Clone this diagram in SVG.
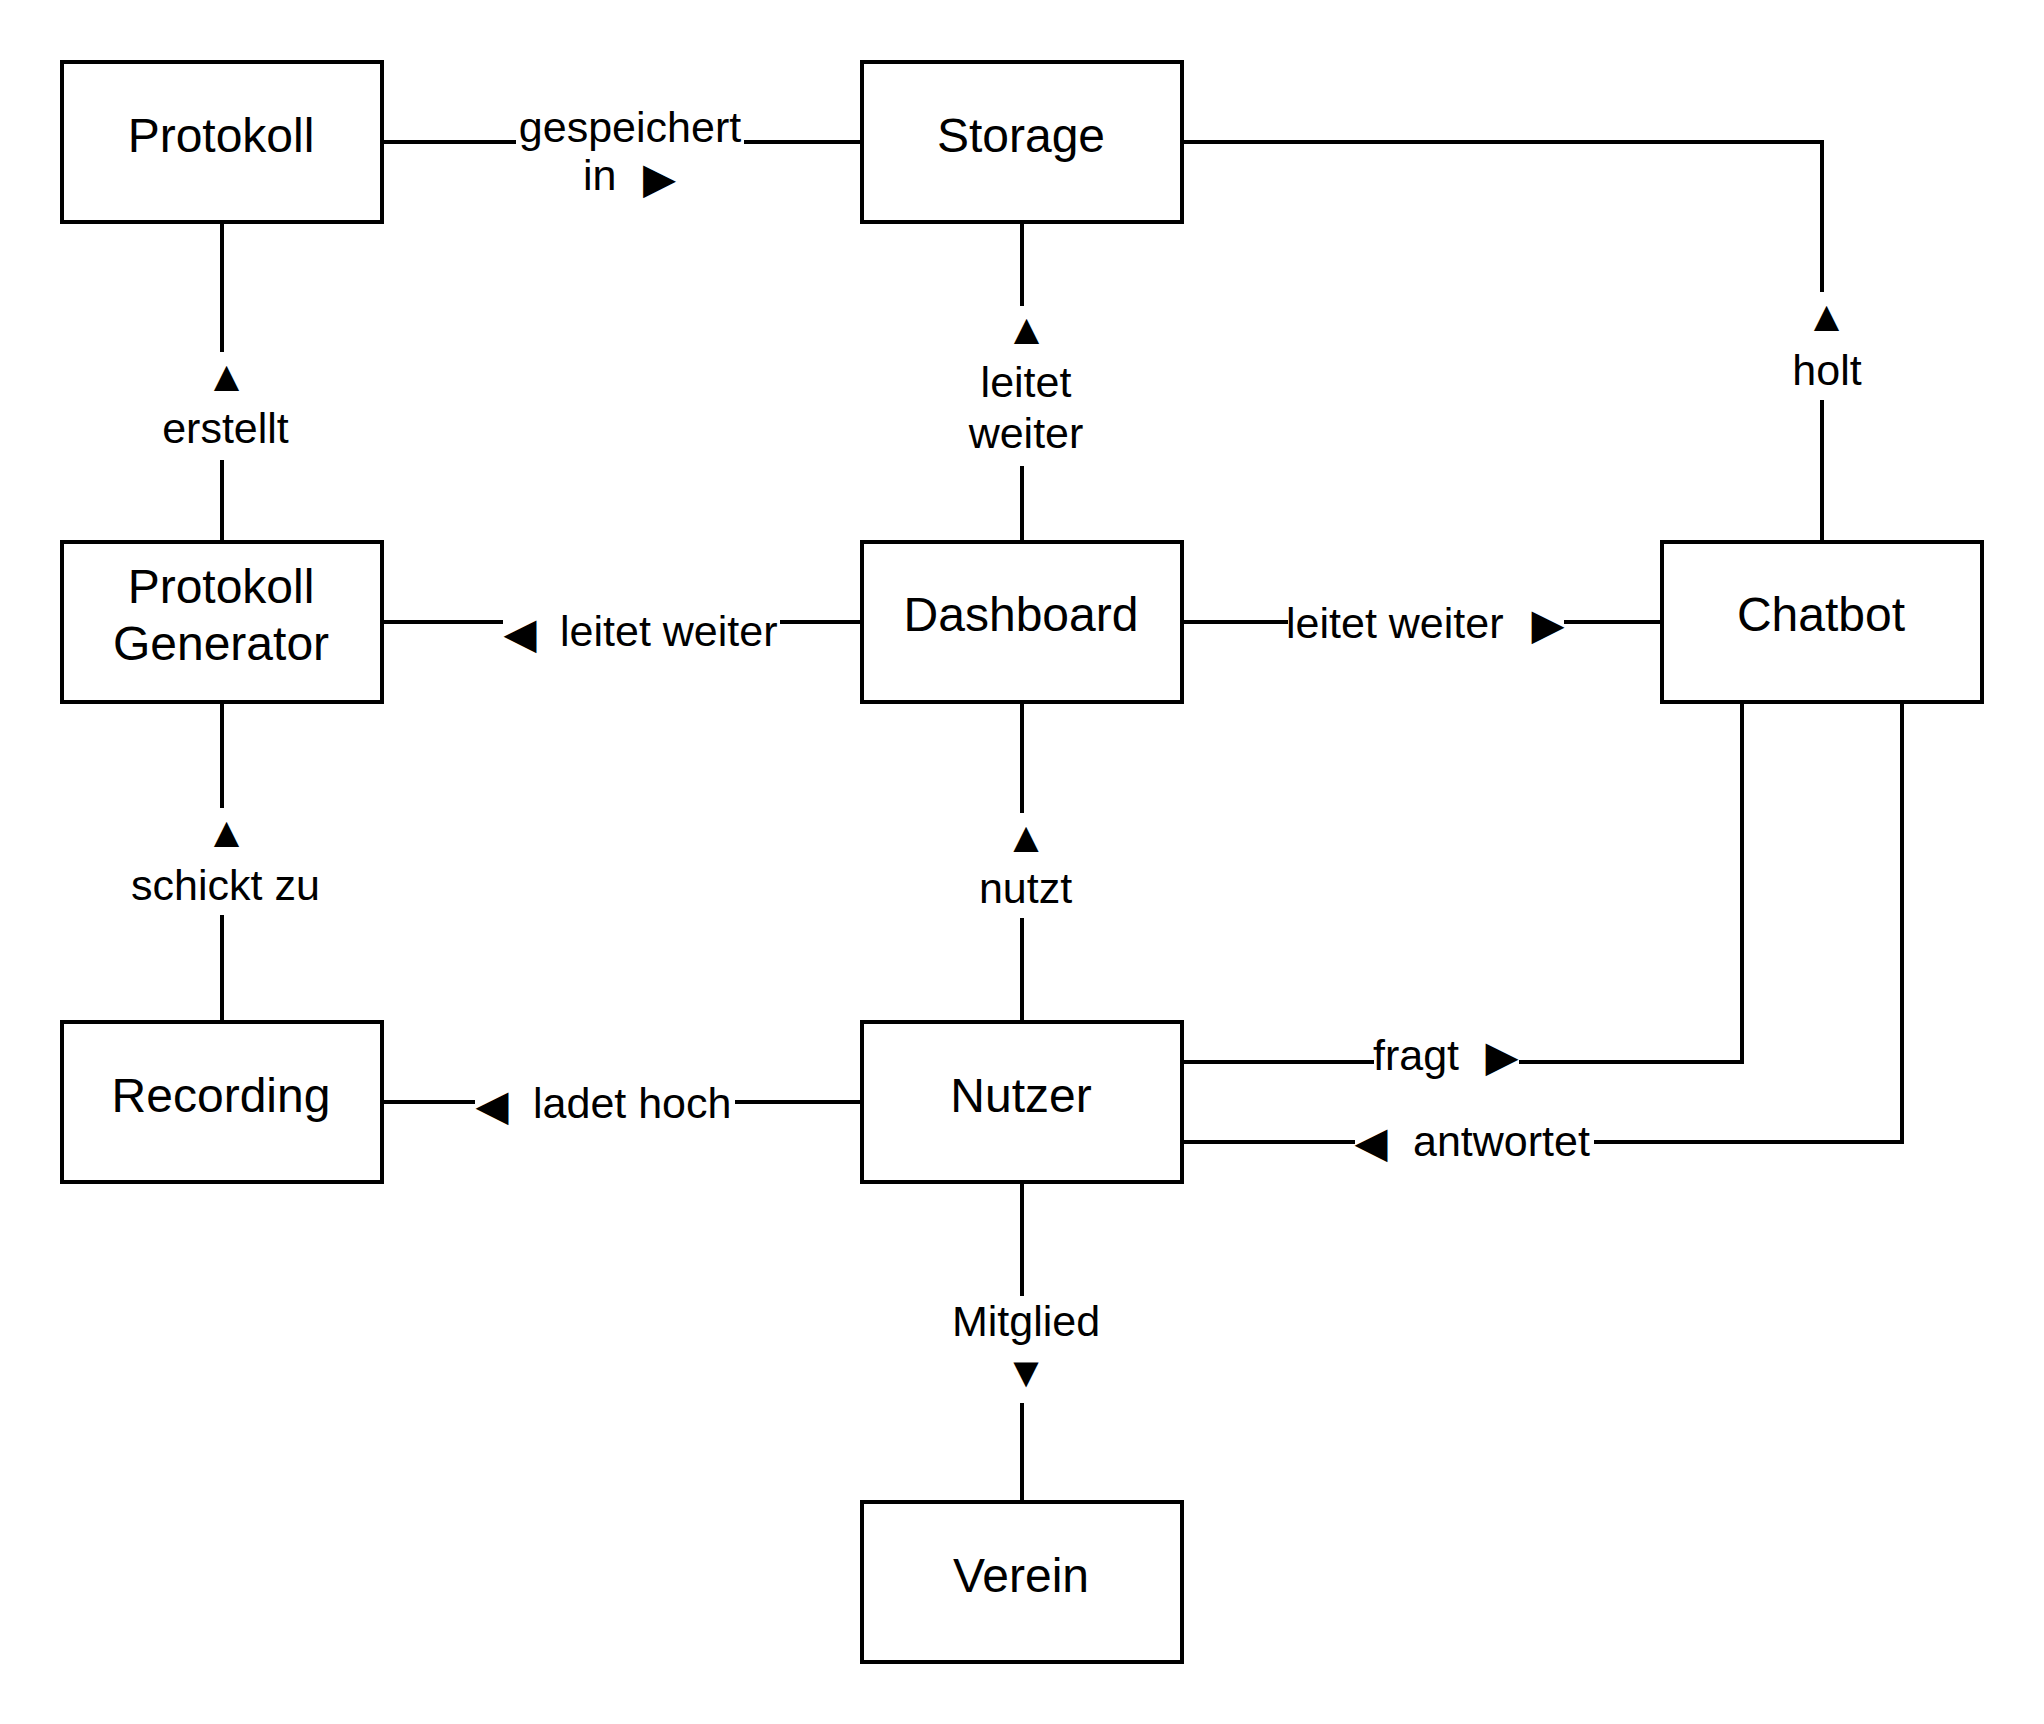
<svg xmlns="http://www.w3.org/2000/svg" width="2044" height="1724" viewBox="0 0 2044 1724">
<style>
.node rect{fill:#ffffff;stroke:#000000;stroke-width:4}
.node text{font-family:"Liberation Sans",Arial,Helvetica,"DejaVu Sans",sans-serif;font-size:48px;fill:#000000;text-anchor:middle}
.edges path{fill:none;stroke:#000000;stroke-width:4}
.lbl{font-family:"Liberation Sans",Arial,Helvetica,"DejaVu Sans",sans-serif;font-size:43px;fill:#000000}
.mid{text-anchor:middle}
</style>
<rect x="0" y="0" width="2044" height="1724" fill="#ffffff"/>
<g class="edges" id="connectors">
<path d="M382 142 H516 M744 142 H862"/>
<path d="M222 222 V352 M222 460 V542"/>
<path d="M382 622 H503 M780 622 H862"/>
<path d="M1022 222 V306 M1022 466 V542"/>
<path d="M1182 142 H1822 V292 M1822 400 V542"/>
<path d="M1182 622 H1288 M1564 622 H1662"/>
<path d="M1022 702 V813 M1022 918 V1022"/>
<path d="M222 702 V808 M222 915 V1022"/>
<path d="M382 1102 H475 M735 1102 H862"/>
<path d="M1182 1062 H1374 M1519 1062 H1742 V702"/>
<path d="M1902 702 V1142 H1594 M1355 1142 H1182"/>
<path d="M1022 1182 V1296 M1022 1403 V1502"/>
<g id="edge-labels">
<text class="lbl mid" x="630" y="142">gespeichert</text>
<text class="lbl" y="190"><tspan x="583">in</tspan><tspan class="mid" x="659.5" y="193">▶</tspan></text>
<text class="lbl mid" x="226.5" y="391">▲</text>
<text class="lbl mid" x="225.5" y="443">erstellt</text>
<text class="lbl mid" x="1026.5" y="344">▲</text>
<text class="lbl mid" x="1026" y="397">leitet</text>
<text class="lbl mid" x="1026" y="448">weiter</text>
<text class="lbl mid" x="1826.5" y="331">▲</text>
<text class="lbl mid" x="1827" y="385">holt</text>
<text class="lbl" y="646"><tspan class="mid" x="520" y="648">◀</tspan><tspan x="560" y="646">leitet weiter</tspan></text>
<text class="lbl" y="638"><tspan x="1286">leitet weiter</tspan><tspan class="mid" x="1548" y="639">▶</tspan></text>
<text class="lbl mid" x="1026" y="852">▲</text>
<text class="lbl mid" x="1025.5" y="903">nutzt</text>
<text class="lbl mid" x="226.5" y="847">▲</text>
<text class="lbl mid" x="225.5" y="900">schickt zu</text>
<text class="lbl" y="1118"><tspan class="mid" x="492" y="1120">◀</tspan><tspan x="533" y="1118">ladet hoch</tspan></text>
<text class="lbl" y="1070"><tspan x="1373">fragt</tspan><tspan class="mid" x="1502" y="1071">▶</tspan></text>
<text class="lbl" y="1156"><tspan class="mid" x="1371" y="1157">◀</tspan><tspan x="1413" y="1156">antwortet</tspan></text>
<text class="lbl mid" x="1026" y="1336">Mitglied</text>
<text class="lbl mid" x="1026" y="1387">▼</text>
</g>
</g>
<g class="node" id="node-protokoll"><rect x="62" y="62" width="320" height="160"/><text x="221" y="152">Protokoll</text></g>
<g class="node" id="node-storage"><rect x="862" y="62" width="320" height="160"/><text x="1021" y="152">Storage</text></g>
<g class="node" id="node-protokoll-generator"><rect x="62" y="542" width="320" height="160"/><text x="221" y="603">Protokoll</text><text x="221" y="660">Generator</text></g>
<g class="node" id="node-dashboard"><rect x="862" y="542" width="320" height="160"/><text x="1021" y="631">Dashboard</text></g>
<g class="node" id="node-chatbot"><rect x="1662" y="542" width="320" height="160"/><text x="1821" y="631">Chatbot</text></g>
<g class="node" id="node-recording"><rect x="62" y="1022" width="320" height="160"/><text x="221" y="1112">Recording</text></g>
<g class="node" id="node-nutzer"><rect x="862" y="1022" width="320" height="160"/><text x="1021" y="1112">Nutzer</text></g>
<g class="node" id="node-verein"><rect x="862" y="1502" width="320" height="160"/><text x="1021" y="1592">Verein</text></g>
</svg>
